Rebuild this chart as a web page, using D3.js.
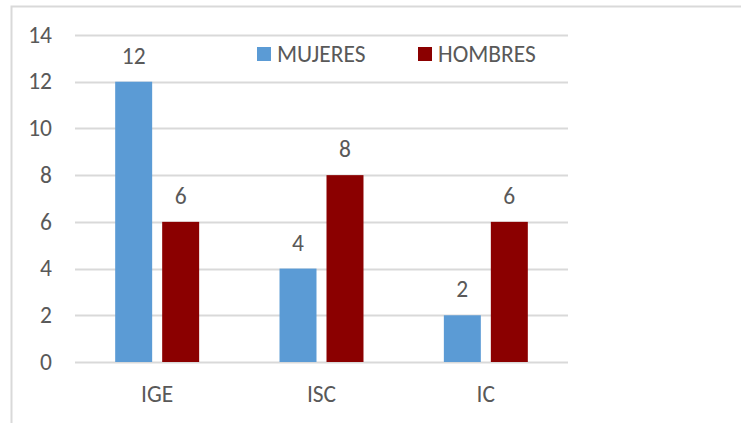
<!DOCTYPE html>
<html>
<head>
<meta charset="utf-8">
<script src="https://cdn.jsdelivr.net/npm/d3@7"></script>
<style>
  body { margin: 0; background: #fff; }
  text { font-family: Carlito, Calibri, Lato, sans-serif; fill: #595959; }
</style>
</head>
<body>
<svg id="plot" width="741" height="423"></svg>
<script>
// chart data
let categories = ["IGE", "ISC", "IC"]
let series = ["MUJERES", "HOMBRES"]
let mujeres = [12, 4, 2]
let hombres = [6, 8, 6]
let yTicks = [0, 2, 4, 6, 8, 10, 12, 14]

let colors = { MUJERES: "#5B9BD5", HOMBRES: "#8B0000" }
let fontSize = "23.5px"

let data = categories.map(function(c, i) {
  return { cat: c, values: [
    { key: "MUJERES", value: mujeres[i] },
    { key: "HOMBRES", value: hombres[i] }
  ]}
})

let svg = d3.select("#plot")

// outer frame (only top and left edges show)
svg.append("path")
  .attr("d", "M11.5,423 L11.5,6.5 L741,6.5")
  .attr("stroke", "#d9d9d9")
  .attr("stroke-width", 2)
  .attr("fill", "none")

// scales
let x0 = d3.scaleBand()
  .domain(categories)
  .range([75, 568])
  .paddingInner(0.489)
  .paddingOuter(0.2445)

let x1 = d3.scaleBand()
  .domain(series)
  .range([0, x0.bandwidth()])
  .paddingInner(0.213)

let yScale = d3.scaleLinear()
  .domain([0, 14])
  .range([362, 35])

// gridlines
svg.append("g")
  .selectAll("line")
  .data(yTicks)
  .enter()
  .append("line")
  .attr("x1", 75)
  .attr("x2", 568)
  .attr("y1", d => Math.round(yScale(d)) + 0.5)
  .attr("y2", d => Math.round(yScale(d)) + 0.5)
  .attr("stroke", "#d9d9d9")
  .attr("stroke-width", 2)

// y tick labels
svg.append("g")
  .selectAll("text")
  .data(yTicks)
  .enter()
  .append("text")
  .attr("x", 52)
  .attr("y", d => yScale(d))
  .attr("dy", "0.33em")
  .attr("text-anchor", "end")
  .style("font-size", fontSize)
  .text(d => d)

// bars
let groups = svg.append("g")
  .selectAll("g")
  .data(data)
  .enter()
  .append("g")
  .attr("transform", d => "translate(" + x0(d.cat) + ",0)")

groups.selectAll("rect")
  .data(d => d.values)
  .enter()
  .append("rect")
  .attr("x", d => x1(d.key))
  .attr("y", d => yScale(d.value))
  .attr("width", x1.bandwidth())
  .attr("height", d => yScale(0) - yScale(d.value))
  .attr("fill", d => colors[d.key])

// value labels
groups.selectAll("text")
  .data(d => d.values)
  .enter()
  .append("text")
  .attr("x", d => x1(d.key) + x1.bandwidth() / 2)
  .attr("y", d => yScale(d.value) - 18)
  .attr("text-anchor", "middle")
  .style("font-size", fontSize)
  .text(d => d.value)

// category labels
svg.append("g")
  .selectAll("text")
  .data(categories)
  .enter()
  .append("text")
  .attr("x", d => x0(d) + x0.bandwidth() / 2)
  .attr("y", 402)
  .attr("text-anchor", "middle")
  .style("font-size", fontSize)
  .text(d => d)

// legend
let legendX = [257, 418]
let legend = svg.append("g")
  .selectAll("g")
  .data(series)
  .enter()
  .append("g")
  .attr("transform", (d, i) => "translate(" + legendX[i] + ",47)")

legend.append("rect")
  .attr("width", 14)
  .attr("height", 14)
  .attr("fill", d => colors[d])

legend.append("text")
  .attr("x", 20)
  .attr("y", 7)
  .attr("dy", "0.33em")
  .style("font-size", fontSize)
  .text(d => d)
</script>
</body>
</html>
